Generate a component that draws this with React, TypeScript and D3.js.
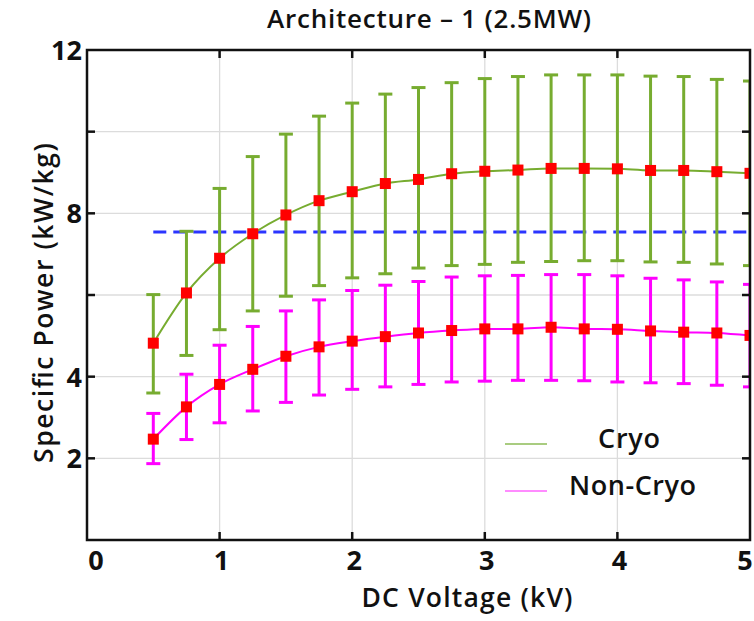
import React from "react";
import * as d3 from "d3";

const voltages = [0.5, 0.75, 1.0, 1.25, 1.5, 1.75, 2.0, 2.25, 2.5, 2.75, 3.0, 3.25, 3.5, 3.75, 4.0, 4.25, 4.5, 4.75, 5.0];

const cryoMean = [4.82, 6.05, 6.9, 7.5, 7.96, 8.31, 8.53, 8.73, 8.83, 8.97, 9.03, 9.06, 9.1, 9.1, 9.09, 9.05, 9.05, 9.02, 8.98];
const cryoHigh = [6.01, 7.56, 8.61, 9.39, 9.94, 10.38, 10.7, 10.92, 11.08, 11.2, 11.3, 11.35, 11.39, 11.39, 11.39, 11.36, 11.35, 11.28, 11.24];
const cryoLow = [3.6, 4.52, 5.15, 5.61, 5.97, 6.23, 6.42, 6.52, 6.66, 6.72, 6.75, 6.8, 6.82, 6.84, 6.84, 6.81, 6.8, 6.76, 6.72];

const nonCryoMean = [2.47, 3.26, 3.81, 4.18, 4.5, 4.73, 4.87, 4.98, 5.07, 5.13, 5.17, 5.17, 5.21, 5.17, 5.16, 5.12, 5.09, 5.07, 5.01];
const nonCryoHigh = [3.1, 4.06, 4.77, 5.23, 5.61, 5.88, 6.11, 6.24, 6.33, 6.44, 6.47, 6.48, 6.5, 6.5, 6.47, 6.41, 6.37, 6.32, 6.26];
const nonCryoLow = [1.87, 2.46, 2.87, 3.16, 3.37, 3.55, 3.69, 3.75, 3.81, 3.87, 3.89, 3.91, 3.91, 3.9, 3.87, 3.85, 3.83, 3.79, 3.75];

const thresholdValue = 7.54;
const thresholdStart = 0.5;

const xTicks = [0, 1, 2, 3, 4, 5];
const yTicks = [2, 4, 6, 8, 10, 12];
const yTickLabels = [2, 4, 8, 12];
const gridX = [1, 2, 3, 4];
const gridY = [2, 4, 6, 8, 10];

const seriesNames = ["Cryo", "Non-Cryo"];
const chartTitle = "Architecture – 1 (2.5MW)";
const xTitle = "DC Voltage (kV)";
const yTitle = "Specific Power (kW/kg)";

const W = 754;
const H = 621;
const margin = { left: 87, right: 4, top: 50, bottom: 81 };
const GREEN = "#77ac30";
const MAGENTA = "#ff00ff";
const FONT = "'Open Sans', sans-serif";

export default function App() {
  const x = d3.scaleLinear().domain([0, 5]).range([margin.left, W - margin.right]);
  const y = d3.scaleLinear().domain([0, 12]).range([H - margin.bottom, margin.top]);

  const x0 = x.range()[0], x1 = x.range()[1];
  const y0 = y.range()[0], y1 = y.range()[1];

  const line = d3
    .line<[number, number]>()
    .x((d) => x(d[0]))
    .y((d) => y(d[1]))
    .curve(d3.curveMonotoneX);

  const series = [
    { name: seriesNames[0], color: GREEN, legendColor: "#a9cc80", mean: cryoMean, hi: cryoHigh, lo: cryoLow, tx: 598, tl: 62 },
    { name: seriesNames[1], color: MAGENTA, legendColor: "#ff8cff", mean: nonCryoMean, hi: nonCryoHigh, lo: nonCryoLow, tx: 569, tl: 127 },
  ];

  const capHalf = 7;
  const sq = 11;

  return (
    <svg width={W} height={H} style={{ position: "absolute", left: 0, top: 0, background: "#fff" }}>
      <defs>
        <clipPath id="plotClip">
          <rect x={x0} y={y1} width={x1 - x0} height={y0 - y1} />
        </clipPath>
      </defs>
      <rect x={0} y={0} width={W} height={H} fill="#fff" />

      {gridX.map((v) => (
        <line key={"gx" + v} x1={x(v)} x2={x(v)} y1={y0} y2={y1} stroke="#dcdcdc" strokeWidth={1.3} />
      ))}
      {gridY.map((v) => (
        <line key={"gy" + v} x1={x0} x2={x1} y1={y(v)} y2={y(v)} stroke="#dcdcdc" strokeWidth={1.3} />
      ))}

      <g clipPath="url(#plotClip)">
        <line
          x1={x(thresholdStart)}
          x2={x1}
          y1={y(thresholdValue)}
          y2={y(thresholdValue)}
          stroke="#2b35ff"
          strokeWidth={3}
          strokeDasharray="13 7"
        />

        {series.map((s) => (
          <g key={s.name}>
            <path d={line(voltages.map((v, i) => [v, s.mean[i]]) as [number, number][]) || ""} fill="none" stroke={s.color} strokeWidth={2} />
            {voltages.map((v, i) => (
              <g key={i} stroke={s.color} strokeWidth={3}>
                <line x1={x(v)} x2={x(v)} y1={y(s.lo[i])} y2={y(s.hi[i])} />
                <line x1={x(v) - capHalf} x2={x(v) + capHalf} y1={y(s.lo[i])} y2={y(s.lo[i])} />
                <line x1={x(v) - capHalf} x2={x(v) + capHalf} y1={y(s.hi[i])} y2={y(s.hi[i])} />
              </g>
            ))}
          </g>
        ))}
        {series.map((s) =>
          voltages.map((v, i) => (
            <rect key={s.name + "m" + i} x={x(v) - sq / 2} y={y(s.mean[i]) - sq / 2} width={sq} height={sq} fill="#ff0000" />
          ))
        )}
      </g>

      <rect x={x0} y={y1} width={x1 - x0} height={y0 - y1} fill="none" stroke="#111" strokeWidth={2.5} />

      {xTicks.slice(1, -1).map((v) => (
        <g key={"xt" + v} stroke="#111" strokeWidth={2.5}>
          <line x1={x(v)} x2={x(v)} y1={y0} y2={y0 - 8} />
          <line x1={x(v)} x2={x(v)} y1={y1} y2={y1 + 8} />
        </g>
      ))}
      {yTicks.slice(0, -1).map((v) => (
        <g key={"yt" + v} stroke="#111" strokeWidth={2.5}>
          <line x1={x0} x2={x0 + 8} y1={y(v)} y2={y(v)} />
          <line x1={x1} x2={x1 - 8} y1={y(v)} y2={y(v)} />
        </g>
      ))}

      {xTicks.map((v) => (
        <text
          key={"xl" + v}
          x={x(v) + (v === 0 ? 9 : v === 5 ? -5 : 2)}
          y={y0 + 30}
          textAnchor="middle"
          fontFamily={FONT}
          fontWeight={700}
          fontSize={27}
          fill="#111"
        >
          {v}
        </text>
      ))}
      {yTickLabels.map((v) => (
        <text
          key={"yl" + v}
          x={x0 - 5}
          y={y(v) + 10}
          textAnchor="end"
          fontFamily={FONT}
          fontWeight={700}
          fontSize={27}
          fill="#111"
        >
          {v}
        </text>
      ))}

      <text x={429} y={28} textAnchor="middle" fontFamily={FONT} fontWeight={600} fontSize={26} fill="#111" textLength={324} lengthAdjust="spacing">
        {chartTitle}
      </text>
      <text x={467} y={607} textAnchor="middle" fontFamily={FONT} fontWeight={600} fontSize={26.5} fill="#111" textLength={211} lengthAdjust="spacing">
        {xTitle}
      </text>
      <text
        transform={`translate(53, 303) rotate(-90)`}
        textAnchor="middle"
        fontFamily={FONT}
        fontWeight={600}
        fontSize={26.5}
        fill="#111"
        textLength={320}
        lengthAdjust="spacing"
      >
        {yTitle}
      </text>

      {series.map((s, i) => (
        <g key={"lg" + s.name}>
          <line x1={505} x2={547} y1={444 + i * 47} y2={444 + i * 47} stroke={s.legendColor} strokeWidth={2} />
          <text
            x={s.tx}
            y={448 + i * 47}
            fontFamily={FONT}
            fontWeight={600}
            fontSize={27}
            fill="#111"
            textLength={s.tl}
            lengthAdjust="spacing"
          >
            {s.name}
          </text>
        </g>
      ))}
    </svg>
  );
}
